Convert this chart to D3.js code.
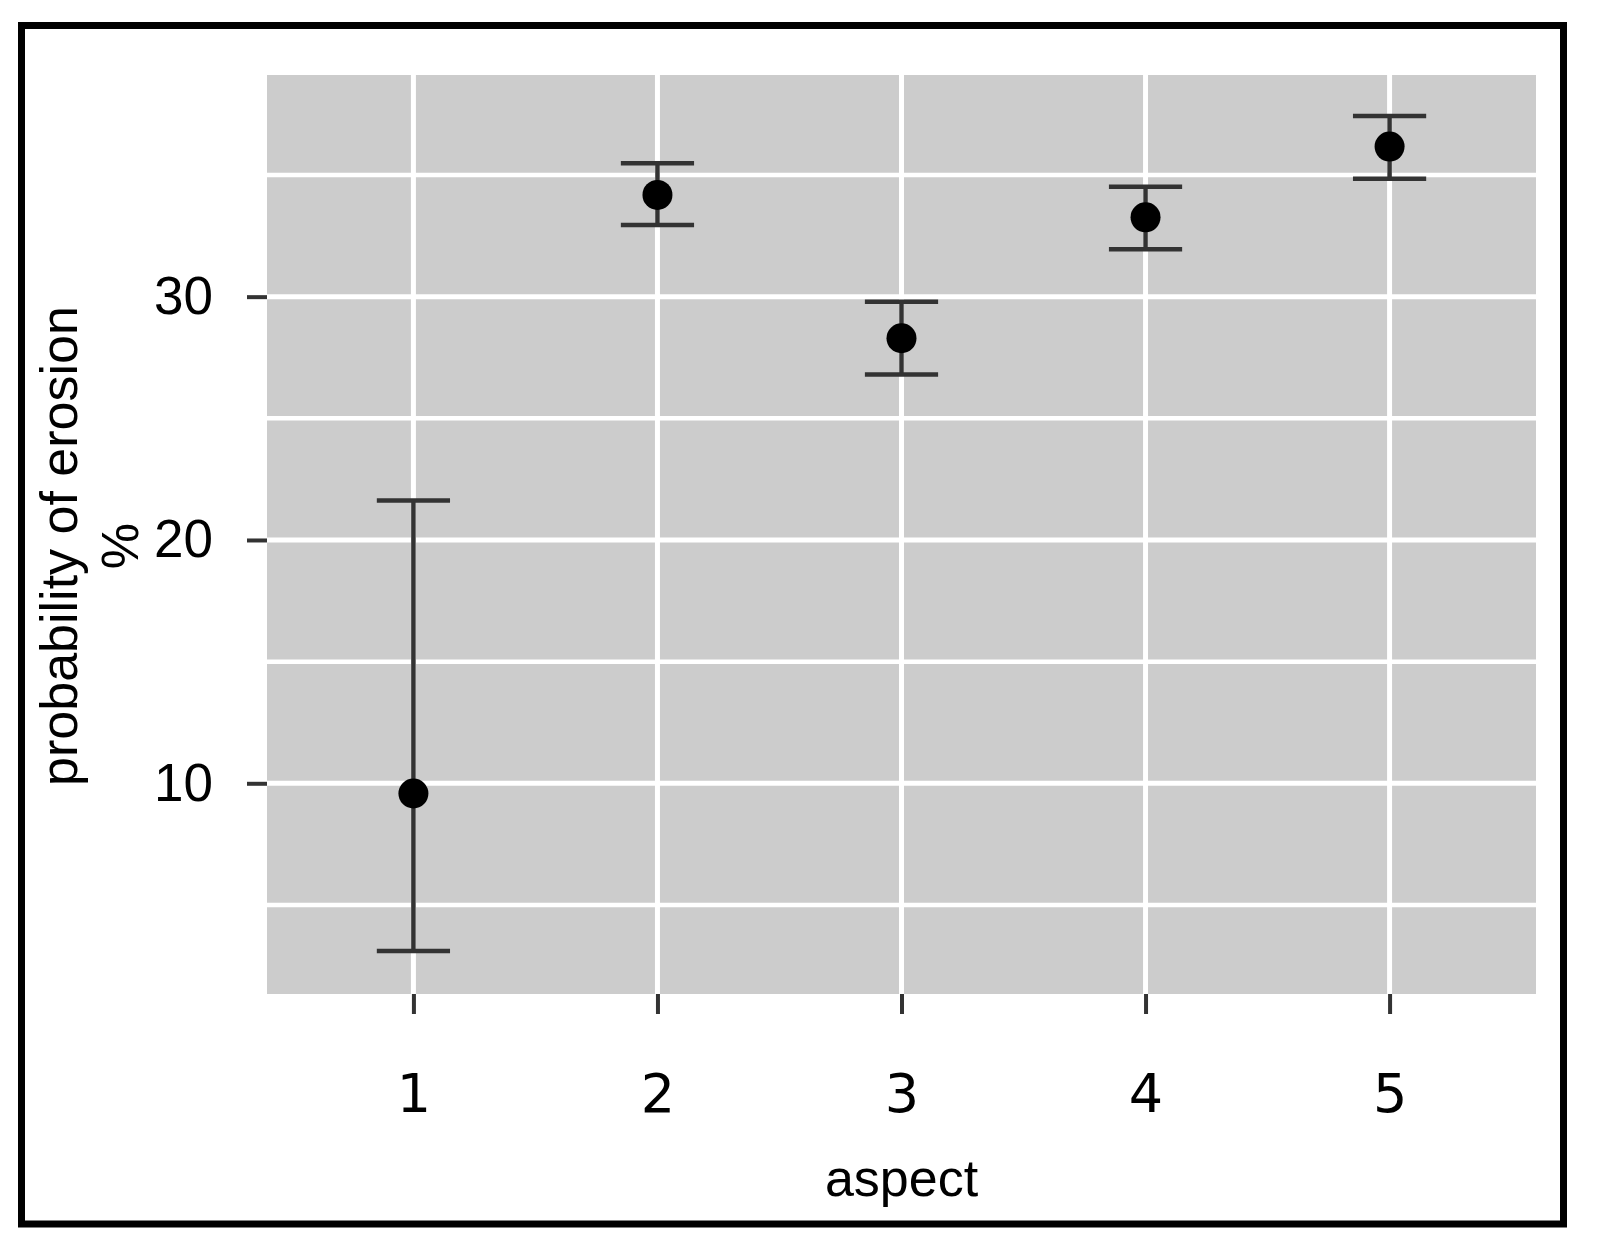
<!DOCTYPE html>
<html>
<head>
<meta charset="utf-8">
<script src="https://cdn.jsdelivr.net/npm/d3@7"></script>
<style>
  body { margin: 0; background: #fff; }
  svg { display: block; }
</style>
</head>
<body>
<div id="chart"></div>
<script>
// Data
const aspects = ["1", "2", "3", "4", "5"];
const probability = [9.58, 34.18, 28.29, 33.26, 36.17];
const lower = [3.11, 32.95, 26.80, 31.95, 34.85];
const upper = [21.62, 35.48, 29.79, 34.52, 37.43];
const yTicks = [10, 20, 30];
const yMinorTicks = [5, 15, 25, 35];

const data = aspects.map((a, i) => ({ aspect: a, p: probability[i], lo: lower[i], hi: upper[i] }));

const W = 1599, H = 1254;
const panel = { left: 267, right: 1536, top: 75, bottom: 994 };

const svg = d3.select("#chart")
    .append("svg")
    .attr("width", W)
    .attr("height", H);

svg.append("rect").attr("width", W).attr("height", H).attr("fill", "#fff");

// Scales
const x = d3.scalePoint()
    .domain(aspects)
    .range([panel.left, panel.right])
    .padding(0.6);

const y = d3.scaleLinear()
    .domain([1.34, 39.11])
    .range([panel.bottom, panel.top]);

// Panel background
svg.append("rect")
    .attr("x", panel.left)
    .attr("y", panel.top)
    .attr("width", panel.right - panel.left)
    .attr("height", panel.bottom - panel.top)
    .attr("fill", "#cccccc");

// Grid lines
const grid = svg.append("g").attr("stroke", "#fff");
grid.selectAll(".minor")
    .data(yMinorTicks)
    .join("line")
    .attr("x1", panel.left).attr("x2", panel.right)
    .attr("y1", d => y(d)).attr("y2", d => y(d))
    .attr("stroke-width", 4.5);
grid.selectAll(".major")
    .data(yTicks)
    .join("line")
    .attr("x1", panel.left).attr("x2", panel.right)
    .attr("y1", d => y(d)).attr("y2", d => y(d))
    .attr("stroke-width", 5);
grid.selectAll(".vert")
    .data(aspects)
    .join("line")
    .attr("x1", d => x(d)).attr("x2", d => x(d))
    .attr("y1", panel.top).attr("y2", panel.bottom)
    .attr("stroke-width", 5);

// Error bars
const capHalf = x.step() * 0.15;
const bars = svg.append("g").attr("stroke", "#333").attr("stroke-width", 4.5);
bars.selectAll(".stem")
    .data(data)
    .join("line")
    .attr("x1", d => x(d.aspect)).attr("x2", d => x(d.aspect))
    .attr("y1", d => y(d.lo)).attr("y2", d => y(d.hi));
bars.selectAll(".capTop")
    .data(data)
    .join("line")
    .attr("x1", d => x(d.aspect) - capHalf).attr("x2", d => x(d.aspect) + capHalf)
    .attr("y1", d => y(d.hi)).attr("y2", d => y(d.hi));
bars.selectAll(".capBottom")
    .data(data)
    .join("line")
    .attr("x1", d => x(d.aspect) - capHalf).attr("x2", d => x(d.aspect) + capHalf)
    .attr("y1", d => y(d.lo)).attr("y2", d => y(d.lo));

// Points
svg.append("g").selectAll("circle")
    .data(data)
    .join("circle")
    .attr("cx", d => x(d.aspect))
    .attr("cy", d => y(d.p))
    .attr("r", 15)
    .attr("fill", "#000");

// Axes
const yAxis = svg.append("g")
    .attr("transform", `translate(${panel.left},0)`)
    .call(d3.axisLeft(y).tickValues(yTicks).tickSize(20).tickPadding(34));
yAxis.select(".domain").remove();
yAxis.selectAll("line").attr("stroke", "#333").attr("stroke-width", 4);
yAxis.selectAll("text")
    .attr("fill", "#000")
    .style("font-family", "'Liberation Sans', Arial, sans-serif")
    .style("font-size", "53px");

const xAxis = svg.append("g")
    .attr("transform", `translate(0,${panel.bottom})`)
    .call(d3.axisBottom(x).tickSize(20).tickPadding(60));
xAxis.select(".domain").remove();
xAxis.selectAll("line").attr("stroke", "#333").attr("stroke-width", 4);
xAxis.selectAll("text")
    .attr("fill", "#000")
    .style("font-family", "'DejaVu Sans', Verdana, sans-serif")
    .style("font-size", "54px");

// Axis titles
svg.append("text")
    .attr("x", (panel.left + panel.right) / 2)
    .attr("y", 1196)
    .attr("text-anchor", "middle")
    .style("font-family", "'Liberation Sans', Arial, sans-serif")
    .style("font-size", "52px")
    .text("aspect");

const yTitle = svg.append("text")
    .attr("transform", "translate(0,546) rotate(-90)")
    .attr("text-anchor", "middle")
    .style("font-family", "'Liberation Sans', Arial, sans-serif")
    .style("font-size", "52px");
yTitle.append("tspan").attr("x", 0).attr("y", 77).text("probability of erosion");
yTitle.append("tspan").attr("x", 0).attr("y", 138).text("%");

// Outer frame
svg.append("rect")
    .attr("x", 21.5)
    .attr("y", 25.5)
    .attr("width", 1542)
    .attr("height", 1198.5)
    .attr("fill", "none")
    .attr("stroke", "#000")
    .attr("stroke-width", 7);
</script>
</body>
</html>
